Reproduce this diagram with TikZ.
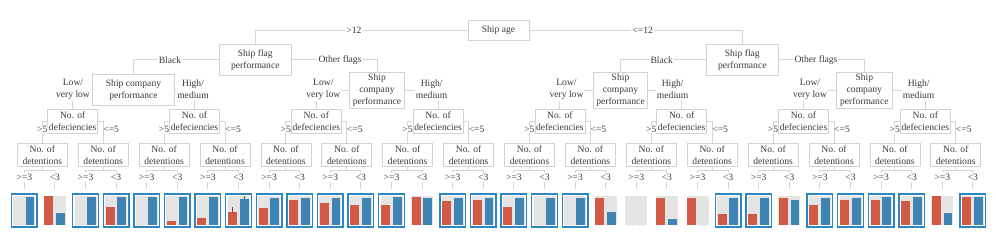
\documentclass[tikz,border=0pt]{standalone}
\usepackage{fontspec}
\setmainfont{Liberation Serif}
\usetikzlibrary{calc}
\definecolor{txt}{HTML}{3A3A3A}
\definecolor{boxline}{HTML}{D2D2D2}
\definecolor{edgeline}{HTML}{D6D6D6}
\definecolor{redbar}{HTML}{D05A45}
\definecolor{bluebar}{HTML}{3F84B3}
\definecolor{framecol}{HTML}{2B87C3}
\definecolor{bggray}{HTML}{E4E4E4}
\begin{document}
\begin{tikzpicture}[x=1pt,y=-1pt,
  every node/.style={font=\fontsize{9.6}{12}\selectfont, text=txt},
  treebox/.style={draw=boxline, line width=0.8pt, align=center, inner sep=0pt},
  edge/.style={draw=edgeline, line width=0.9pt},
  lbl/.style={fill=white, inner sep=1pt, align=center},
  plainlbl/.style={inner sep=0.5pt, align=center},
  leafbox/.style={minimum width=25.5pt, minimum height=33pt, inner sep=0pt, line width=1.4pt},
  redwhisker/.style={draw=redbar!70!black, line width=0.5pt},
  bluewhisker/.style={draw=bluebar!70!black, line width=0.5pt}
]
\useasboundingbox (0,0) rectangle (996,248);

% tree boxes
\node[treebox, minimum width=61pt, minimum height=20pt] (age) at (498.5,30) {Ship age};
\node[treebox, minimum width=72.7pt, minimum height=31pt] (flagL) at (255.3,59.8) {Ship flag\\performance};
\node[treebox, minimum width=72.7pt, minimum height=31pt] (flagR) at (742.3,59.8) {Ship flag\\performance};
\node[treebox, minimum width=82.4pt, minimum height=31.3pt] (cLL) at (133.5,89.7) {Ship company\\performance};
\node[treebox, minimum width=54.3pt, minimum height=36.3pt] (cLR) at (377,90.2) {Ship\\company\\performance};
\node[treebox, minimum width=54.3pt, minimum height=36.3pt] (cRL) at (620.5,90.2) {Ship\\company\\performance};
\node[treebox, minimum width=55.3pt, minimum height=36.3pt] (cRR) at (864.3,90.2) {Ship\\company\\performance};

\foreach \i in {1,...,8}
  \node[treebox, minimum width=50pt, minimum height=24.3pt] (def\i) at ({72.7+121.8*(\i-1)},121.2) {No. of\\defeciencies};
\foreach \j in {1,...,16}
  \node[treebox, minimum width=50pt, minimum height=23.4pt] (det\j) at ({42.3+60.9*(\j-1)},155) {No. of\\detentions};

% leaves
\foreach \k/\r/\b/\f in {0/0/0.97/1, 1/1.0/0.43/0, 2/0/0.97/1, 3/0.64/0.97/1,
  4/0/0.97/1, 5/0.15/0.97/1, 6/0.25/0.97/1, 7/0.45/0.91/1,
  8/0.61/0.96/1, 9/0.88/0.96/1, 10/0.76/0.96/1, 11/0.69/0.96/1,
  12/0.69/0.97/1, 13/0.98/0.95/0, 14/0.85/0.96/1, 15/0.88/0.96/1,
  16/0.62/0.94/1, 17/0/0.94/1, 18/0/0.94/1, 19/0.94/0.46/0,
  20/0/0/0, 21/0.96/0.21/0, 22/0.96/0/0, 23/0.40/0.96/1,
  24/0.37/0.96/1, 25/0.96/0.87/0, 26/0.69/0.96/1, 27/0.87/0.96/1,
  28/0.89/0.99/1, 29/0.85/0.99/1, 30/1.0/0.43/0, 31/0.98/0.98/1} {
  \pgfmathsetmacro\x{24.3+30.6*\k}
  \node[leafbox, draw=framecol, draw opacity=\f] (leaf\k) at (\x,210.5) {};
  \fill[bggray] (\x-11,196.5) rectangle (\x+11,225);
  \fill[redbar] (\x-10.5,225) rectangle (\x-1.5,225-28.5*\r);
  \fill[bluebar] (\x+1.2,225) rectangle (\x+10,225-28.5*\b);
}
% error whiskers on leaf 7
\draw[redwhisker] ($(leaf7.center)+(-6,2.5)$) -- ++(0,-5.5);
\draw[bluewhisker] ($(leaf7.center)+(5.6,-11)$) -- ++(0,-3);

% edges
\draw[edge] (age.west) -| (flagL.north);
\draw[edge] (age.east) -| (flagR.north);
\draw[edge] (flagL.west) -| (cLL.north);
\draw[edge] (flagL.east) -| (cLR.north);
\draw[edge] (flagR.west) -| (cRL.north);
\draw[edge] (flagR.east) -| (cRR.north);
\draw[edge] (cLL.west) -| (def1.north);
\draw[edge] (cLL.east) -| (def2.north);
\draw[edge] (cLR.west) -| (def3.north);
\draw[edge] (cLR.east) -| (def4.north);
\draw[edge] (cRL.west) -| (def5.north);
\draw[edge] (cRL.east) -| (def6.north);
\draw[edge] (cRR.west) -| (def7.north);
\draw[edge] (cRR.east) -| (def8.north);
\foreach \i in {1,...,8} {
  \pgfmathtruncatemacro\a{2*\i-1}
  \pgfmathtruncatemacro\c{2*\i}
  \draw[edge] (def\i.west) -| (det\a.north);
  \draw[edge] (def\i.east) -| (det\c.north);
}
\foreach \j in {1,...,16} {
  \pgfmathtruncatemacro\a{2*\j-2}
  \pgfmathtruncatemacro\c{2*\j-1}
  \draw[edge, shorten >=4pt] (det\j.south) -- ++(0,3.3) -| (leaf\a.north);
  \draw[edge, shorten >=4pt] (det\j.south) -- ++(0,3.3) -| (leaf\c.north);
  \node[lbl] (ge\j) at (leaf\a.center |- 0,177.3) {>=3};
  \node[lbl] (lt\j) at (leaf\c.center |- 0,177.3) {<3};
}
\foreach \i in {1,...,8} {
  \node[lbl, inner sep=0.3pt] (gt\i) at ($(def\i.center)+(-30.5,8)$) {>5};
  \node[plainlbl] (le\i) at ($(def\i.center)+(38.5,8)$) {<=5};
}

% labels on upper edges
\node[lbl] (gt12) at (354,30) {>12};
\node[lbl] (le12) at (642.7,30) {<=12};
\node[lbl] (blackL) at (170,59.8) {Black};
\node[lbl] (otherL) at (340,59.8) {Other flags};
\node[lbl] (blackR) at (661.7,59.8) {Black};
\node[lbl] (otherR) at (816,59.8) {Other flags};
\node[lbl] (lowLL) at (73,89.5) {Low/\\very low};
\node[lbl] (highLL) at (193,89.5) {High/\\medium};
\node[lbl] (lowLR) at (323.3,89.5) {Low/\\very low};
\node[lbl] (highLR) at (431.7,89.5) {High/\\medium};
\node[lbl] (lowRL) at (566.5,89.5) {Low/\\very low};
\node[lbl] (highRL) at (672.7,89.5) {High/\\medium};
\node[lbl] (lowRR) at (810,89.5) {Low/\\very low};
\node[lbl] (highRR) at (918.7,89.5) {High/\\medium};
\end{tikzpicture}
\end{document}
